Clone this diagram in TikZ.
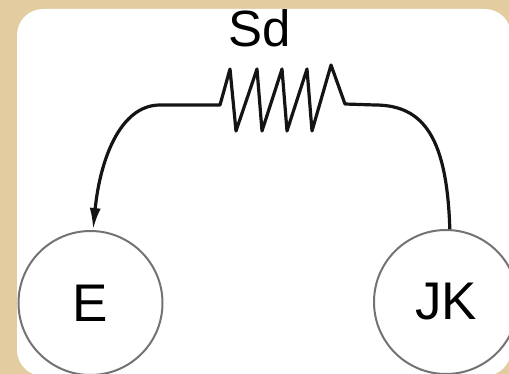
\documentclass[tikz,border=0pt]{standalone}
\usepackage{fontspec}
\setmainfont{Liberation Sans}
\usetikzlibrary{arrows.meta}
\definecolor{bgtan}{RGB}{226,204,160}
\definecolor{circgray}{RGB}{115,115,115}
\definecolor{wirecol}{RGB}{20,20,20}
\begin{document}
\begin{tikzpicture}[x=1pt,y=-1pt,
  state/.style={circle,draw=circgray,line width=2pt,minimum size=144pt,inner sep=0pt,font=\fontsize{53}{53}\selectfont},
  wire/.style={draw=wirecol,line width=3.2pt,line join=round},
  lbl/.style={font=\fontsize{51}{51}\selectfont,inner sep=0pt}]
\fill[bgtan] (0,0) rectangle (509,374);
\useasboundingbox (0,0) rectangle (509,374);
\fill[white,rounded corners=26pt] (17,9) rectangle (511,376);
\node[state] (E) at (90.5,303) {E};
\node[state] (JK) at (446,302) {JK};
\coordinate (r1) at (345,104);
\coordinate (r0) at (220,105);
\node[lbl,anchor=base] (sd) at (259.5,47) {Sd};
\draw[wire,-{Latex[length=22pt,width=11pt]}]
  (JK.87) .. controls (447,140) and (425,105) .. (375,105) -- (r1)
  -- (331,65) -- (312,131) -- (307,69) -- (287,131) -- (282,69)
  -- (262,131) -- (257,69) -- (236,131) -- (230,69) -- (r0)
  -- (160,105) .. controls (120,105) and (100,160) .. (E.88);
\end{tikzpicture}
\end{document}
